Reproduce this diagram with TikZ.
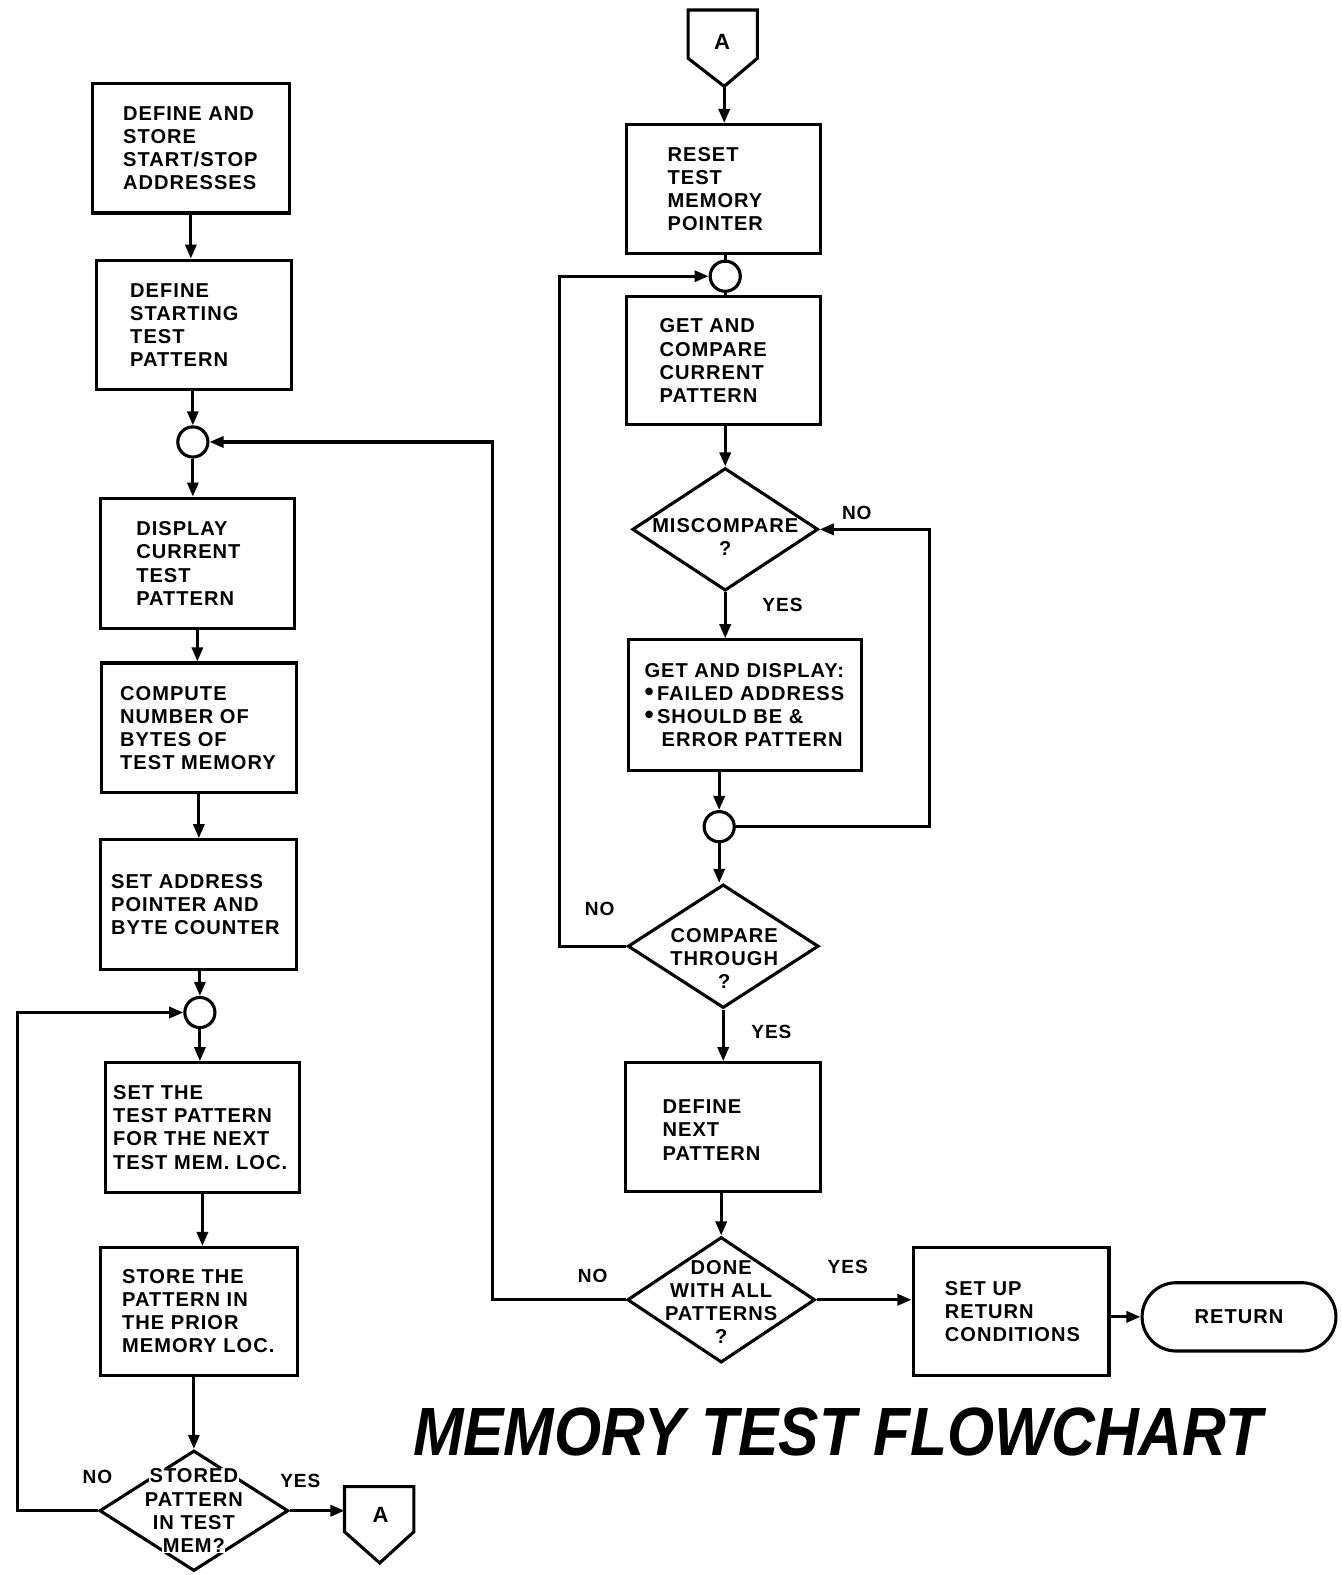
\documentclass[tikz,border=0pt]{standalone}
\usepackage{fontspec}
\usepackage{graphicx}
\setmainfont{Liberation Sans}
\newfontfamily\boxfont{Liberation Sans}[LetterSpace=5]
\newfontfamily\titlefont{Liberation Sans}
\usetikzlibrary{shapes.geometric,arrows.meta}
\begin{document}
\begin{tikzpicture}[x=1pt,y=-1pt,
  ln/.style={line width=3.1pt, line join=miter},
  box/.style={draw, ln, inner sep=0, rectangle},
  circ/.style={draw, ln, circle, minimum size=30, inner sep=0},
  dia/.style={draw, ln, diamond, inner sep=0},
  txt/.style={inner sep=0, align=left, anchor=west, font=\boxfont\bfseries\fontsize{20}{23}\selectfont},
  ctxt/.style={inner sep=0.5pt, fill=white, align=center, font=\boxfont\bfseries\fontsize{20}{23}\selectfont},
  lbl/.style={inner sep=0, font=\boxfont\bfseries\fontsize{19}{22}\selectfont},
  arr/.style={ln, -{Triangle[length=14pt,width=11pt]}},
  con/.style={ln}
]
\useasboundingbox (0,0) rectangle (1336,1568);

% ---------- left column ----------
\node[box, minimum width=196, minimum height=129] (b1) at (190,147.5) {};
\node[txt] (b1t) at ([xshift=32]b1.west) {DEFINE AND\\STORE\\START/STOP\\ADDRESSES};
\node[box, minimum width=194, minimum height=129] (b2) at (193,323.5) {};
\node[txt] (b2t) at ([xshift=35]b2.west) {DEFINE\\STARTING\\TEST\\PATTERN};
\node[circ] (c1) at (192,440) {};
\node[box, minimum width=193, minimum height=130] (b3) at (196.5,561) {};
\node[txt] (b3t) at ([xshift=37]b3.west) {DISPLAY\\CURRENT\\TEST\\PATTERN};
\node[box, minimum width=194, minimum height=129] (b4) at (198,724.5) {};
\node[txt] (b4t) at ([xshift=20]b4.west) {COMPUTE\\NUMBER OF\\BYTES OF\\TEST MEMORY};
\node[box, minimum width=195, minimum height=129] (b5) at (197.5,900.5) {};
\node[txt] (b5t) at ([xshift=12]b5.west) {SET ADDRESS\\POINTER AND\\BYTE COUNTER};
\node[circ] (c2) at (199,1008) {};
\node[box, minimum width=193, minimum height=129] (b6) at (201.5,1122.5) {};
\node[txt] (b6t) at ([xshift=9]b6.west) {SET THE\\TEST PATTERN\\FOR THE NEXT\\TEST MEM. LOC.};
\node[box, minimum width=196, minimum height=127] (b7) at (198,1305.5) {};
\node[txt] (b7t) at ([xshift=23]b7.west) {STORE THE\\PATTERN IN\\THE PRIOR\\MEMORY LOC.};
\node[dia, minimum width=188, minimum height=120] (d1) at (193,1504) {};
\node[ctxt, fill=none] (d1t) at (193,1504) {\phantom{STORED}\\PATTERN\\IN TEST\\\phantom{MEM?}};
\node[ctxt] (d1ta) at (193,1469.5) {STORED};
\node[ctxt] (d1tb) at (193,1538.5) {MEM?};

% bottom off-page connector A
\draw[ln] (343,1480) -- (412,1480) -- (412,1525) -- (378,1556) -- (343,1525) -- cycle;
\node[lbl, font=\boxfont\bfseries\fontsize{22}{24}\selectfont] (offA2) at (379,1508) {A};
\coordinate (offA2in) at (343,1504);

% ---------- right column ----------
\draw[ln] (685,10) -- (754,10) -- (754,58) -- (721,86) -- (685,58) -- cycle;
\node[lbl, font=\boxfont\bfseries\fontsize{22}{24}\selectfont] (offA1) at (719,42) {A};
\coordinate (offA1tip) at (721,86);

\node[box, minimum width=193, minimum height=128] (r1) at (720.5,188) {};
\node[txt] (r1t) at ([xshift=42]r1.west) {RESET\\TEST\\MEMORY\\POINTER};
\node[circ] (c3) at (722,275) {};
\node[box, minimum width=193, minimum height=128] (r2) at (720.5,359) {};
\node[txt] (r2t) at ([xshift=34]r2.west) {GET AND\\COMPARE\\CURRENT\\PATTERN};
\node[dia, minimum width=185, minimum height=122] (d2) at (722,527) {};
\node[ctxt, fill=none] (d2t) at (722,535) {MISCOMPARE\\?};
\node[box, minimum width=232, minimum height=130] (r3) at (742,702) {};
\node[txt] (r3t) at ([xshift=17]r3.west) {GET AND DISPLAY:\\\raisebox{0.5pt}{\fontsize{26}{23}\selectfont•}\,FAILED ADDRESS\\\raisebox{0.5pt}{\fontsize{26}{23}\selectfont•}\,SHOULD BE \&\\\hspace*{17pt}ERROR PATTERN};
\node[circ] (c4) at (716,823) {};
\node[dia, minimum width=190, minimum height=123] (d3) at (720,942) {};
\node[ctxt, fill=none] (d3t) at (721,954) {COMPARE\\THROUGH\\?};
\node[box, minimum width=194, minimum height=128] (r4) at (720,1122) {};
\node[txt] (r4t) at ([xshift=38,yshift=-3]r4.west) {DEFINE\\NEXT\\PATTERN};
\node[dia, minimum width=187, minimum height=125] (d4) at (718,1294) {};
\node[ctxt, fill=none] (d4t) at (718,1296) {DONE\\WITH ALL\\\phantom{PATTERNS}\\?};
\node[ctxt, inner sep=0pt] (d4ta) at (718,1307.5) {PATTERNS};
\node[box, minimum width=195, minimum height=127] (r5) at (1006.5,1305.5) {};
\node[txt] (r5t) at ([xshift=33]r5.west) {SET UP\\RETURN\\CONDITIONS};
\node[draw, ln, rounded corners=34pt, minimum width=193, minimum height=68, inner sep=0, font=\boxfont\bfseries\fontsize{20}{23}\selectfont] (ret) at (1233.5,1311) {RETURN};

% title
\node[inner sep=0] (title) at (834,1426) {\scalebox{0.887}[1]{\titlefont\bfseries\itshape\fontsize{68}{70}\selectfont MEMORY TEST FLOWCHART}};

% ---------- connectors: left column ----------
\draw[arr] (b1.south) -- (b1.south |- b2.north);
\draw[arr] (b2.south -| c1) -- (c1.north);
\draw[arr] (c1.south) -- (c1.south |- b3.north);
\draw[arr] (b3.south) -- (b3.south |- b4.north);
\draw[arr] (b4.south) -- (b4.south |- b5.north);
\draw[arr] (b5.south -| c2) -- (c2.north);
\draw[arr] (c2.south) -- (c2.south |- b6.north);
\draw[arr] (b6.south) -- (b6.south |- b7.north);
\draw[arr] (b7.south -| d1) -- (d1.north);
\draw[arr] (d1.east) -- (offA2in);
\coordinate (lpA) at (17,0);
\draw[arr] (d1.west) -- (d1.west -| lpA) -- (lpA |- c2) -- (c2.west);

% ---------- connectors: right column ----------
\draw[arr] (offA1tip) -- (offA1tip |- r1.north);
\draw[con] (r1.south -| c3) -- (c3.north);
\draw[con] (c3.south) -- (c3.south |- r2.north);
\draw[arr] (r2.south -| d2) -- (d2.north);
\draw[arr] (d2.south) -- (d2.south |- r3.north);
\draw[arr] (r3.south -| c4) -- (c4.north);
\draw[arr] (c4.south) -- (c4.south |- d3.north);
\draw[arr] (d3.south) -- (d3.south |- r4.north);
\draw[arr] (r4.south -| d4) -- (d4.north);
\draw[arr] (d4.east) -- (d4.east -| r5.west);
\draw[arr] (ret.west -| r5.east) -- (ret.west);
\coordinate (lpB) at (925,0);
\draw[arr] (c4.east) -- (c4.east -| lpB) -- (lpB |- d2.east) -- (d2.east);
\coordinate (lpC) at (557,0);
\draw[arr] (d3.west) -- (d3.west -| lpC) -- (lpC |- c3) -- (c3.west);
\coordinate (lpD) at (490,0);
\draw[arr] (d4.west) -- (d4.west -| lpD) -- (lpD |- c1) -- (c1.east);

% ---------- labels ----------
\node[lbl] (l1) at (97,1470) {NO};
\node[lbl] (l2) at (299,1474) {YES};
\node[lbl] (l3) at (853,511) {NO};
\node[lbl] (l4) at (779,602) {YES};
\node[lbl] (l5) at (597,905) {NO};
\node[lbl] (l6) at (768,1027) {YES};
\node[lbl] (l7) at (590,1270) {NO};
\node[lbl] (l8) at (844,1261) {YES};
\end{tikzpicture}
\end{document}
